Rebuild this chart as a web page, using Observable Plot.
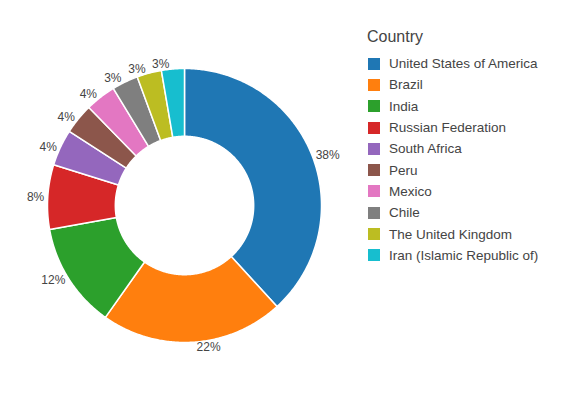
<!DOCTYPE html>
<html>
<head>
<meta charset="utf-8">
<script src="https://cdn.jsdelivr.net/npm/d3@7"></script>
<script src="https://cdn.jsdelivr.net/npm/@observablehq/plot@0.6"></script>
<style>
  html, body { margin: 0; padding: 0; background: #fff; }
  #wrap { position: relative; width: 584px; height: 398px; font-family: "Liberation Sans", Arial, sans-serif; color: #444; }
  #legend { position: absolute; left: 367px; top: 27px; }
  #legend .title { font-size: 16px; line-height: 20px; margin-bottom: 6px; }
  #legend .item { height: 21.3px; display: flex; align-items: center; font-size: 13.5px; }
  #legend .sw { width: 12px; height: 12px; margin-left: 1px; margin-right: 9px; }
</style>
</head>
<body>
<div id="wrap"></div>
<script>
const countries = ["United States of America", "Brazil", "India", "Russian Federation", "South Africa", "Peru", "Mexico", "Chile", "The United Kingdom", "Iran (Islamic Republic of)"];
const shares = [38.2, 21.6, 12.4, 7.6, 4.3, 3.6, 3.6, 3.1, 2.9, 2.7];
const colors = ["#1f77b4", "#ff7f0e", "#2ca02c", "#d62728", "#9467bd", "#8c564b", "#e377c2", "#7f7f7f", "#bcbd22", "#17becf"];

const R = 137;         // outer radius in px
const hole = 0.505;    // inner radius fraction
const rows = countries.map((c, i) => ({country: c, value: shares[i]}));
const total = d3.sum(shares);
const arcs = d3.pie().sort(null).value(d => d.value).startAngle(0).endAngle(2 * Math.PI)(rows);

// polygon points for each slice
const pts = [];
for (const a of arcs) {
  const n = Math.max(2, Math.ceil((a.endAngle - a.startAngle) / 0.01));
  for (let k = 0; k <= n; k++) {
    const t = a.startAngle + (a.endAngle - a.startAngle) * k / n;
    pts.push({country: a.data.country, x: Math.sin(t), y: Math.cos(t)});
  }
  for (let k = n; k >= 0; k--) {
    const t = a.startAngle + (a.endAngle - a.startAngle) * k / n;
    pts.push({country: a.data.country, x: hole * Math.sin(t), y: hole * Math.cos(t)});
  }
}

// outside labels (plotly-like placement)
const ctx = document.createElement("canvas").getContext("2d");
ctx.font = "12px 'Liberation Sans', Arial, sans-serif";
const lbls = arcs.map(a => {
  const text = Math.round(a.data.value / total * 100) + "%";
  const m = (a.startAngle + a.endAngle) / 2;
  const sx = R * Math.sin(m), sy = -R * Math.cos(m);
  const w = ctx.measureText(text).width, h = 9;
  let dx = w / 2, dy = h / 2;
  if (sx < 0) dx = -dx;
  if (sy < 0) dy = -dy;
  const ox = dx + 3.5 * (dx > 0 ? 1 : -1);
  const oy = dy / (1 + sx * sx / (sy * sy));
  return {text, x: (sx + ox) / R, y: -(sy + oy) / R};
});

const chart = Plot.plot({
  width: 584,
  height: 398,
  marginLeft: 47,
  marginRight: 263,
  marginTop: 68,
  marginBottom: 56,
  style: {fontFamily: "'Liberation Sans', Arial, sans-serif", background: "white"},
  x: {domain: [-1, 1], axis: null},
  y: {domain: [-1, 1], axis: null},
  color: {domain: countries, range: colors},
  marks: [
    Plot.line(pts, {x: "x", y: "y", z: "country", fill: "country", stroke: "white", strokeWidth: 1.5, curve: "linear-closed"}),
    Plot.text(lbls, {x: "x", y: "y", text: "text", fontSize: 12, fill: "#444", textAnchor: "middle"})
  ]
});

const wrap = document.getElementById("wrap");
wrap.appendChild(chart);
const legend = document.createElement("div");
legend.id = "legend";
legend.innerHTML = `<div class="title">Country</div>` + countries.map((c, i) =>
  `<div class="item"><span class="sw" style="background:${colors[i]}"></span><span>${c}</span></div>`).join("");
wrap.appendChild(legend);
</script>
</body>
</html>
